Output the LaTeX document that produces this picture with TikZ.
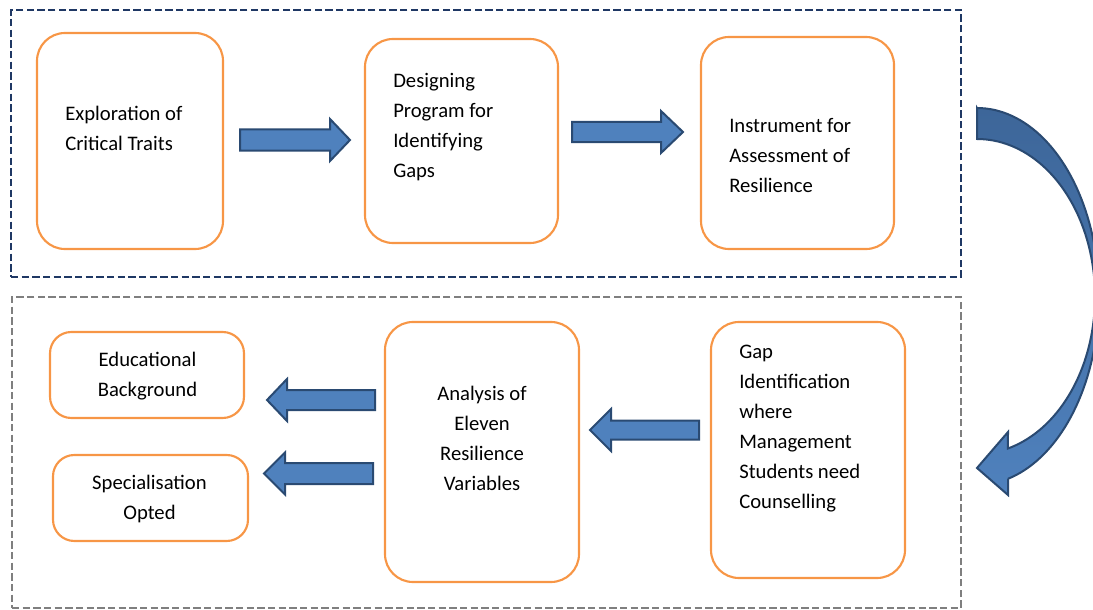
\documentclass[tikz,border=0pt]{standalone}
\usepackage{fontspec}
\setmainfont{Carlito}
\usetikzlibrary{fit}

\definecolor{boxorange}{HTML}{F79646}
\definecolor{arrowfill}{HTML}{4F81BD}
\definecolor{arrowtop}{HTML}{3D6699}
\definecolor{arrowline}{HTML}{2A4A72}
\definecolor{framenavy}{HTML}{1F3864}
\definecolor{framegray}{HTML}{7F7F7F}

% horizontal block arrow: tail x, head-base x, tip x, centre y, shaft half-width
\newcommand\blockarrow[5]{%
  \draw[blockarrow] (#1,#4-#5) -- (#2,#4-#5) -- (#2,#4-21) -- (#3,#4)
    -- (#2,#4+21) -- (#2,#4+#5) -- (#1,#4+#5) -- cycle;}

\begin{document}
\begin{tikzpicture}[x=0.75pt,y=-0.75pt,
  box/.style={draw=boxorange, line width=1.6pt, rounded corners=21pt, inner sep=0pt},
  smallbox/.style={box, rounded corners=16pt},
  frame/.style={line width=1.5pt, dash pattern=on 5.5pt off 2.5pt, inner sep=0pt},
  txt/.style={font=\fontsize{15.5pt}{22.5pt}\selectfont, inner sep=0pt, align=left},
  ctxt/.style={txt, align=center},
  blockarrow/.style={fill=arrowfill, draw=arrowline, line width=1.5pt}]

\useasboundingbox (0,0) rectangle (1093,610);

% dashed frames around the two stages
\node[frame, draw=framenavy, fit={(11,10) (961,277)}] (stageA) {};
\node[frame, draw=framegray, fit={(12,297) (961,608)}] (stageB) {};

% first stage
\node[box, fit={(37,33) (223,249)}] (explore) {};
\node[box, fit={(365,39) (558,243)}] (design) {};
\node[box, fit={(701,37) (894,249)}] (instrument) {};
\node[txt, anchor=west] (exploreT) at (65,128) {Exploration of\\Critical Traits};
\node[txt, anchor=west] (designT) at (393,127.5) {Designing\\Program for\\Identifying\\Gaps};
\node[txt, anchor=west] (instrumentT) at (729,155) {Instrument for\\Assessment of\\Resilience};

% second stage
\node[box, fit={(711,322) (905,578)}] (gap) {};
\node[box, fit={(385,322) (579,582)}] (analysis) {};
\node[smallbox, fit={(50,332) (244,418)}] (edu) {};
\node[smallbox, fit={(53,455) (248,541)}] (spec) {};
\node[txt, anchor=west] (gapT) at (739,429) {Gap\\Identification\\where\\Management\\Students need\\Counselling};
\node[ctxt] (analysisT) at (482,438) {Analysis of\\Eleven\\Resilience\\Variables};
\node[ctxt] (eduT) at (147.5,376) {Educational\\Background};
\node[ctxt] (specT) at (149.5,499) {Specialisation\\Opted};

% block arrows between the steps
\blockarrow{240}{330}{350}{140}{10.5}
\blockarrow{572}{661}{683}{132}{10}
\blockarrow{699}{611}{590}{430}{9.5}
\blockarrow{375}{287}{267}{400}{10}
\blockarrow{373}{285}{264}{473.5}{10.5}

% curved arrow leading from the first stage to the second:
% two half-ellipses about (977,296.5) bounding the band, head at lower left
\begin{scope}
  \clip (0,0) rectangle (1093,610);
  \shadedraw[top color=arrowtop, bottom color=arrowfill, draw=arrowline, line width=1.5pt]
    (977,108) -- (977,139)
    -- plot[domain=90:-74.8, samples=80] ({977+118*cos(\x)},{296.5-157.5*sin(\x)})
    -- (1008,432) -- (977,468) -- (1008,495) -- (1008,478.8)
    -- plot[domain=-75.3:90, samples=80] ({977+122*cos(\x)},{296.5-188.5*sin(\x)})
    -- cycle;
\end{scope}
\end{tikzpicture}
\end{document}
